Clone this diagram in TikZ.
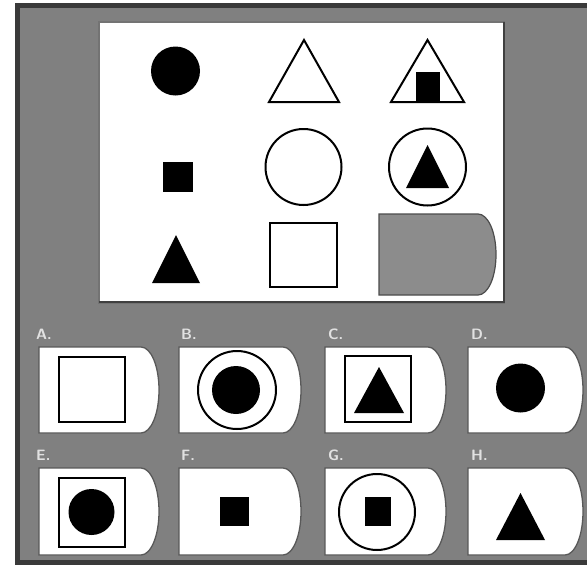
\documentclass[tikz,border=0pt]{standalone}
\definecolor{bg}{RGB}{128,128,128}
\definecolor{bgdark}{RGB}{58,58,58}
\definecolor{dshape}{RGB}{140,140,140}
\definecolor{lbl}{RGB}{225,225,225}
\newcommand{\dcard}[5]{%
  \filldraw[#5] (#1,#2) -- ({#3-18},#2)
    .. controls ({#3-8},#2) and (#3,{(#2+#4)/2-0.28*(#4-#2)}) .. (#3,{(#2+#4)/2})
    .. controls (#3,{(#2+#4)/2+0.28*(#4-#2)}) and ({#3-8},#4) .. ({#3-18},#4)
    -- (#1,#4) -- cycle;}
\begin{document}
\begin{tikzpicture}[x=1pt,y=-1pt,line join=miter,
  outl/.style={draw=black,line width=2,fill=white},
  solidfill/.style={fill=black},
  cardstyle/.style={fill=white,draw=black!65,line width=1.3},
  lab/.style={text=lbl,font=\sffamily\bfseries\fontsize{15}{15}\selectfont,inner sep=0,anchor=west}]
\useasboundingbox (0,0) rectangle (587,568);
\fill[white] (0,0) rectangle (587,568);
\fill[bg] (15,3) rectangle (587,565);
\draw[bgdark,line width=5] (17.5,564) -- (17.5,5.5) -- (587,5.5);
\draw[bgdark,line width=5] (15,562.5) -- (587,562.5);
% top panel
\fill[white] (99,22) rectangle (504,303);
\draw[black!55,line width=1.5] (99,22) rectangle (504,303);
\draw[black!75,line width=2.5] (99,302) -- (504,302) -- (504,22);
% row 1
\fill[solidfill] (175.5,71) circle (24.5);
\draw[outl] (269,102) -- (304,40) -- (339,102) -- cycle;
\draw[outl] (391,102) -- (427.5,40) -- (464,102) -- cycle;
\fill[solidfill] (416,72) rectangle (440,101);
% row 2
\fill[solidfill] (163,162) rectangle (193,192);
\draw[outl] (303.5,167) circle (38);
\draw[outl] (427.5,167) circle (38.5);
\fill[solidfill] (406,188) -- (427.5,145) -- (449,188) -- cycle;
% row 3
\fill[solidfill] (152,283) -- (176,235) -- (200,283) -- cycle;
\draw[outl] (270,223) rectangle (337,287);
\dcard{379}{214}{496}{295}{fill=dshape,draw=black!70,line width=1.2}
% answer cards row 1
\dcard{39}{347}{159}{433}{cardstyle}
\dcard{179}{347}{301}{433}{cardstyle}
\dcard{325}{347}{446}{433}{cardstyle}
\dcard{468}{347}{583}{433}{cardstyle}
% answer cards row 2
\dcard{39}{468}{159}{555}{cardstyle}
\dcard{179}{468}{301}{555}{cardstyle}
\dcard{325}{468}{446}{555}{cardstyle}
\dcard{468}{468}{583}{555}{cardstyle}
% labels
\node[lab] (la) at (36,334) {A.};
\node[lab] (lb) at (181,334) {B.};
\node[lab] (lc) at (328,334) {C.};
\node[lab] (ld) at (471,334) {D.};
\node[lab] (le) at (36,455) {E.};
\node[lab] (lf) at (181,455) {F.};
\node[lab] (lg) at (328,455) {G.};
\node[lab] (lh) at (471,455) {H.};
% A
\draw[outl] (59,357) rectangle (125,422);
% B
\draw[outl] (237,390) circle (39);
\fill[solidfill] (236,390) circle (24);
% C
\draw[outl] (345,356) rectangle (411,422);
\fill[solidfill] (354,413) -- (379,367) -- (404,413) -- cycle;
% D
\fill[solidfill] (520.5,388) circle (24.5);
% E
\draw[outl] (59,478) rectangle (125,547);
\fill[solidfill] (91.5,512) circle (23);
% F
\fill[solidfill] (220,497) rectangle (249,526);
% G
\draw[outl] (377,512) circle (38);
\fill[solidfill] (365,497) rectangle (391,526);
% H
\fill[solidfill] (496,540) -- (520.5,493) -- (545,540) -- cycle;
\end{tikzpicture}
\end{document}
